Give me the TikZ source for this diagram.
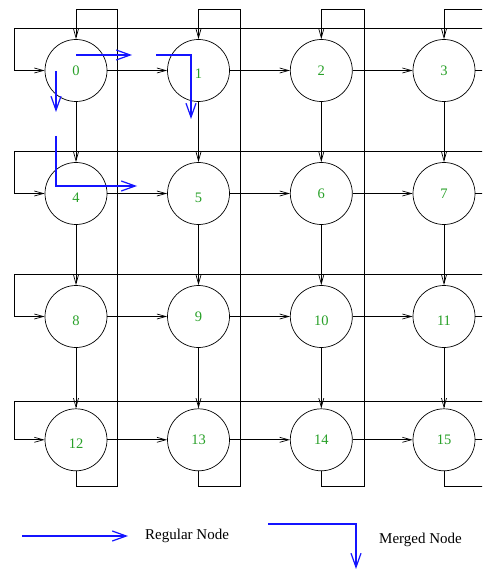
\documentclass[tikz,border=0pt]{standalone}
\usepackage{fontspec}
\setmainfont{Liberation Serif}
\usetikzlibrary{arrows.meta}
\definecolor{lblgreen}{RGB}{40,160,40}
\definecolor{pathblue}{RGB}{20,20,255}
\begin{document}
\begin{tikzpicture}[x=1pt,y=-1pt,
  circ/.style={circle,draw,line width=0.7pt,minimum size=62pt,inner sep=0pt,
    text=lblgreen,font=\fontsize{14.5}{16}\selectfont},
  lo/.style={text height=17pt,text depth=0pt},
  wire/.style={line width=0.7pt,-{Straight Barb[length=9pt,width=5pt]}},
  plain/.style={line width=0.7pt},
  bluearr/.style={draw=pathblue,line width=1.2pt,-{Straight Barb[length=14pt,width=10pt]}},
  legend/.style={font=\fontsize{15}{17}\selectfont,inner sep=0pt}
]
\useasboundingbox (0,0) rectangle (482,569);
\clip (0,0) rectangle (482,569);
% nodes
\node[circ]    (n0)  at (76,70.5)   {0};
\node[circ,lo] (n1)  at (198.5,70.5) {1};
\node[circ]    (n2)  at (321.3,70.5) {2};
\node[circ]    (n3)  at (444,70.5)  {3};
\node[circ,lo] (n4)  at (76,193.5)  {4};
\node[circ,lo] (n5)  at (198.5,193.5) {5};
\node[circ]    (n6)  at (321.3,193.5) {6};
\node[circ]    (n7)  at (444,193.5) {7};
\node[circ,lo] (n8)  at (76,316.5)  {8};
\node[circ]    (n9)  at (198.5,316.5) {9};
\node[circ,lo] (n10) at (321.3,316.5) {10};
\node[circ,lo] (n11) at (444,316.5) {11};
\node[circ,lo] (n12) at (76,439.8)  {12};
\node[circ]    (n13) at (198.5,439.8) {13};
\node[circ]    (n14) at (321.3,439.8) {14};
\node[circ]    (n15) at (444,439.8) {15};
% horizontal edges
\foreach \a/\b in {0/1,1/2,2/3,4/5,5/6,6/7,8/9,9/10,10/11,12/13,13/14,14/15}
  \draw[wire] (n\a.east) -- (n\b.west);
% vertical edges
\foreach \a/\b in {0/4,1/5,2/6,3/7,4/8,5/9,6/10,7/11,8/12,9/13,10/14,11/15}
  \draw[wire] (n\a.south) -- (n\b.north);
% row wrap-arounds
\draw[wire] (n3.east)  -- (500,70.5)  -- (500,28.3) -- (14,28.3) -- (14,70.5) -- (n0.west);
\draw[wire] (n7.east)  -- (500,193.5) -- (500,151.7) -- (14,151.7) -- (14,193.5) -- (n4.west);
\draw[wire] (n11.east) -- (500,316.5) -- (500,274) -- (14,274) -- (14,316.5) -- (n8.west);
\draw[wire] (n15.east) -- (500,439.8) -- (500,401) -- (14,401) -- (14,439.8) -- (n12.west);
% column wrap-arounds
\draw[wire] (n12.south) -- (76,486) -- (117.7,486) -- (117.7,9) -- (76,9) -- (n0.north);
\draw[wire] (n13.south) -- (198.5,486) -- (240.7,486) -- (240.7,9) -- (198.5,9) -- (n1.north);
\draw[wire] (n14.south) -- (321.3,486) -- (364,486) -- (364,9) -- (321.3,9) -- (n2.north);
\draw[wire] (n15.south) -- (444,486) -- (486.5,486) -- (486.5,9) -- (444,9) -- (n3.north);
% blue paths
\coordinate (b1s) at (76,55);   \coordinate (b1e) at (132,55);
\coordinate (b2s) at (156,55);  \coordinate (b2e) at (191,119);
\coordinate (b3s) at (56,71);   \coordinate (b3e) at (56,112);
\coordinate (b4s) at (56,136);  \coordinate (b4e) at (137,186);
\draw[bluearr] (b1s) -- (b1e);
\draw[bluearr] (b2s) -| (b2e);
\draw[bluearr] (b3s) -- (b3e);
\draw[bluearr] (b4s) |- (b4e);
% legend
\coordinate (l1s) at (22,536);  \coordinate (l1e) at (128,536);
\coordinate (l2s) at (268,524); \coordinate (l2e) at (356,569);
\draw[bluearr] (l1s) -- (l1e);
\draw[bluearr] (l2s) -| (l2e);
\node[legend,anchor=west] (lreg) at (145,535.5) {Regular Node};
\node[legend,anchor=west] (lmer) at (379,539.5) {Merged Node};
\end{tikzpicture}
\end{document}
